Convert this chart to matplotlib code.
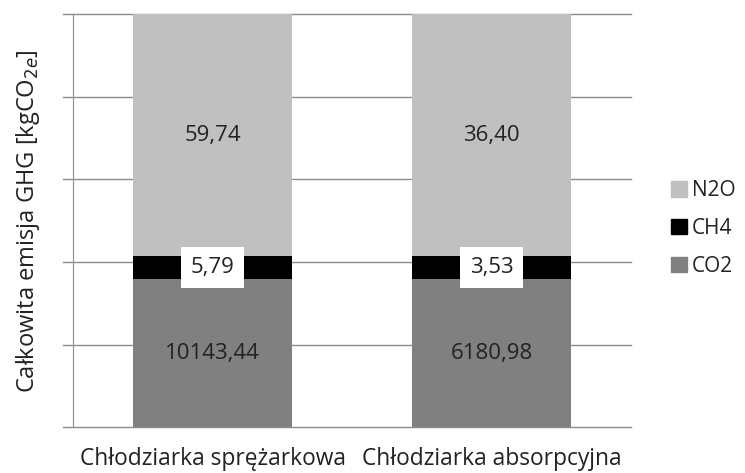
import numpy as np
import matplotlib
matplotlib.use("Agg")
import matplotlib.pyplot as plt
from matplotlib.patches import Patch

plt.rcParams['font.family'] = ['Open Sans', 'DejaVu Sans']

categories = ["Chłodziarka sprężarkowa", "Chłodziarka absorpcyjna"]
gases = ["CO2", "CH4", "N2O"]
co2 = np.array([10143.44, 6180.98])
ch4 = np.array([5.79, 3.53])
n2o = np.array([59.74, 36.40])
labels_co2 = ["10143,44", "6180,98"]
labels_ch4 = ["5,79", "3,53"]
labels_n2o = ["59,74", "36,40"]

colors = {"CO2": "#808080", "CH4": "#000000", "N2O": "#C0C0C0"}

# 100% stacked shares per bar
total = co2 + ch4 + n2o
s_co2 = co2 / total
s_ch4 = ch4 / total
s_n2o = n2o / total

# Piecewise-linear (broken) value axis so the thin CH4/N2O layers stay readable
share_breaks = np.array([0.0, s_co2[0], s_co2[0] + s_ch4[0], 1.0])
axis_breaks = np.array([0.0, 0.358, 0.414, 1.0])


def fwd(v):
    return np.interp(v, share_breaks, axis_breaks)


def inv(v):
    return np.interp(v, axis_breaks, share_breaks)


fig = plt.figure(figsize=(7.45, 4.73), dpi=100)
ax = fig.add_axes([0.098, 0.097, 0.749, 0.873])
ax.set_yscale("function", functions=(fwd, inv))
ax.set_ylim(0, 1)
x = np.arange(len(categories))
ax.set_xlim(-0.5, 1.5)

# gridlines and tick marks in axes space
for g in np.linspace(0, 1, 6):
    ax.plot([-0.018, 1.0], [g, g], transform=ax.transAxes, color="#8C8C8C",
            lw=1.0, clip_on=False, zorder=0)

w = 0.57
ax.bar(x, s_co2, w, color=colors["CO2"], zorder=2)
ax.bar(x, s_ch4, w, bottom=s_co2, color=colors["CH4"], zorder=2)
ax.bar(x, s_n2o, w, bottom=s_co2 + s_ch4, color=colors["N2O"], zorder=2)

fs = 16
box = dict(facecolor="white", edgecolor="none", boxstyle="square,pad=0.45")
for i in range(len(categories)):
    y_co2 = inv(fwd(0) / 2 + fwd(s_co2[i]) / 2)
    y_ch4 = inv((fwd(s_co2[i]) + fwd(s_co2[i] + s_ch4[i])) / 2)
    y_n2o = inv((fwd(s_co2[i] + s_ch4[i]) + fwd(1.0)) / 2)
    ax.text(x[i], y_co2, labels_co2[i], ha="center", va="center", fontsize=fs,
            color="#222222", zorder=3)
    ax.text(x[i], y_ch4, labels_ch4[i], ha="center", va="center", fontsize=fs,
            color="#222222", bbox=box, zorder=3)
    ax.text(x[i], y_n2o, labels_n2o[i], ha="center", va="center", fontsize=fs,
            color="#222222", zorder=3)

for side in ["top", "right", "bottom"]:
    ax.spines[side].set_visible(False)
ax.spines["left"].set_color("#8C8C8C")
ax.set_yticks([])
ax.set_xticks(x)
ax.set_xticklabels(categories, fontsize=16.4, color="#222222")
ax.tick_params(axis="x", length=0, pad=14)

ax.set_ylabel("Całkowita emisja GHG [kgCO$_{2e}$]", fontsize=17, color="#222222",
              labelpad=22)

handles = [Patch(color=colors[g]) for g in ["N2O", "CH4", "CO2"]]
fig.legend(handles, ["N2O", "CH4", "CO2"], loc="center left",
           bbox_to_anchor=(0.876, 0.517), frameon=False, fontsize=15,
           handlelength=0.75, handleheight=0.75, handletextpad=0.25,
           labelspacing=0.8, labelcolor="#222222")

fig.savefig("out.png", dpi=100)
